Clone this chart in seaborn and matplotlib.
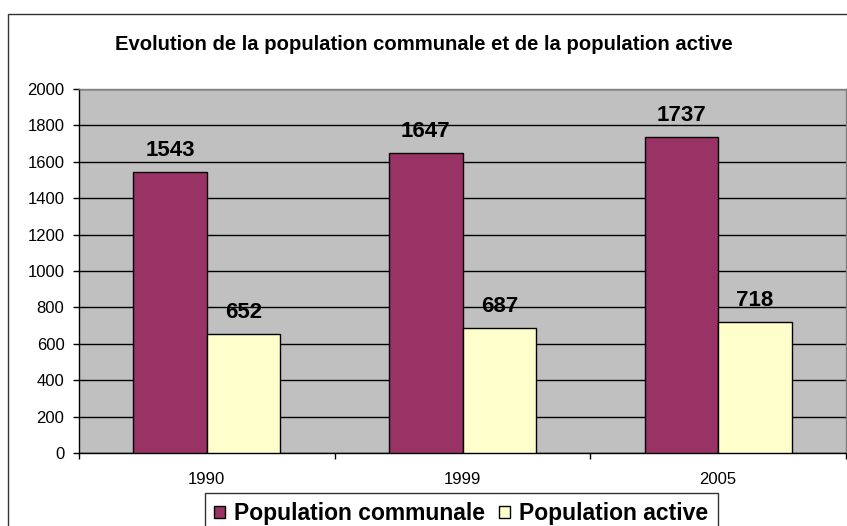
import pandas as pd
import numpy as np
import matplotlib.pyplot as plt
import seaborn as sns
from matplotlib.patches import Rectangle

# Données
years = ["1990", "1999", "2005"]
pop_communale = [1543, 1647, 1737]
pop_active = [652, 687, 718]
series = ["Population communale", "Population active"]

df = pd.DataFrame({
    "Année": years * 2,
    "Valeur": pop_communale + pop_active,
    "Série": [series[0]] * 3 + [series[1]] * 3,
})

sns.set_theme(style="white")
plt.rcParams['font.family'] = ['Liberation Sans', 'DejaVu Sans']
plt.rcParams['text.color'] = 'black'
plt.rcParams['xtick.color'] = 'black'
plt.rcParams['ytick.color'] = 'black'

fig = plt.figure(figsize=(8.47, 5.26), dpi=100)
ax = fig.add_axes([79 / 847, 73 / 526, 767 / 847, 364 / 526])

sns.barplot(data=df, x="Année", y="Valeur", hue="Série", order=years,
            hue_order=series, palette=["#993366", "#FFFFCC"], width=0.575,
            gap=0, edgecolor="black", linewidth=1, saturation=1, ax=ax,
            zorder=3)

ax.set_facecolor("#C0C0C0")
ax.set_xlim(-0.5, 2.5)
ax.set_ylim(0, 2000)
ax.set_yticks(np.arange(0, 2001, 200))
ax.grid(axis="y", color="black", linewidth=1, zorder=0)
ax.set_axisbelow(True)
ax.set_xlabel("")
ax.set_ylabel("")

# ticks aux frontières des catégories
ax.set_xticks(np.arange(-0.5, 2.6, 1), minor=True)
ax.tick_params(axis="x", which="major", length=0, pad=14, labelsize=12, labelcolor="black")
ax.tick_params(axis="x", which="minor", length=4.5, width=1, color="black", direction="out", bottom=True)
ax.tick_params(axis="y", length=4.5, width=1, color="black", direction="out", left=True, pad=6,
               labelsize=12, labelcolor="black")

for s in ["left", "bottom"]:
    ax.spines[s].set_color("black")
    ax.spines[s].set_linewidth(1)
for s in ["top", "right"]:
    ax.spines[s].set_color("#808080")
    ax.spines[s].set_linewidth(1)

# Étiquettes des valeurs
for cont in ax.containers:
    ax.bar_label(cont, fontsize=16, fontweight="bold", padding=8, color="black")

fig.text(0.5, 1 - 44 / 526, "Evolution de la population communale et de la population active",
         ha="center", va="center", fontsize=14.6, fontweight="bold", color="black")

leg = ax.legend(loc="upper left", bbox_to_anchor=(205 / 847, 1 - 493 / 526),
                bbox_transform=fig.transFigure, ncol=2, frameon=True, fancybox=False,
                prop={"weight": "bold", "size": 16.5}, handlelength=0.48, handleheight=0.48,
                handletextpad=0.4, columnspacing=0.6, borderpad=0.4, borderaxespad=0,
                labelcolor="black")
leg.get_frame().set_edgecolor("black")
leg.get_frame().set_linewidth(1)
for h in leg.legend_handles:
    h.set_edgecolor("black")

# cadre du graphique
fig.patches.append(Rectangle((8 / 847, -0.05), 1.0, 1 - 14 / 526 + 0.05,
                             transform=fig.transFigure, fill=False,
                             edgecolor="#333333", linewidth=1, clip_on=False))

fig.savefig("out.png", dpi=100)
